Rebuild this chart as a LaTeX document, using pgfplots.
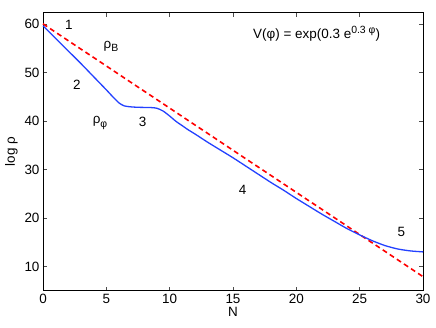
\documentclass[border=0pt]{standalone}
\usepackage{fontspec}
\setmainfont{Liberation Sans}
\usepackage{pgfplots}
\pgfplotsset{compat=1.18}
\usetikzlibrary{calc}
\definecolor{mblue}{RGB}{35,65,255}
\definecolor{mred}{RGB}{255,0,0}
\newcommand{\lbl}{\fontsize{13.5}{15}\selectfont}
\newcommand{\sub}{\fontsize{10.5}{12}\selectfont}
\begin{document}
\begin{tikzpicture}
\begin{axis}[
    scale only axis,
    width=380bp, height=278bp,
    xmin=0, xmax=30,
    ymin=5, ymax=62.3,
    xtick={0,5,...,30},
    ytick={10,20,...,60},
    tick align=inside,
    major tick length=4bp,
    axis line style={line width=0.6bp},
    tick style={line width=0.5bp, black!70},
    /pgf/number format/assume math mode=true,
    tick label style={font=\lbl},
    xlabel={N}, ylabel={log ρ},
    label style={font=\lbl},
    xlabel style={yshift=3bp},
    ylabel style={yshift=0bp},
    clip=false,
]
% rho_B
\addplot[color=mred, line width=1.6bp, dash pattern=on 5bp off 3.5bp] coordinates {
    (0,60.0) (30,7.9)
};
% rho_phi
\addplot[color=mblue, line width=1.3bp, smooth, tension=0.4] coordinates {
    (0,59.6) (1,57.0) (2,54.4) (3,51.8) (4,49.1) (5,46.4) (5.5,45.0)
    (6,43.7) (6.4,43.1) (6.9,42.9) (7.5,42.8) (8.5,42.75) (9,42.6)
    (9.5,42.0) (10,41.0) (10.5,39.9) (11,39.0) (11.5,38.1) (12,37.3)
    (13,35.6) (14,34.0) (15,32.4) (16,30.7) (17,29.0) (18,27.3)
    (19,25.7) (20,24.0) (21,22.4) (22,20.8) (23,19.3) (24,17.8)
    (25,16.5) (26,15.3) (27,14.3) (28,13.6) (29,13.2) (30,13.0)
};
\node[font=\lbl] at (axis cs:2.05,59.7) {1};
\node[font=\lbl] at (axis cs:5.37,55.4) {ρ\raisebox{-0.45ex}{\sub B}};
\node[font=\lbl] at (axis cs:2.68,47.5) {2};
\node[font=\lbl] at (axis cs:4.5,39.5) {ρ\raisebox{-0.55ex}{\sub φ}};
\node[font=\lbl] at (axis cs:7.87,39.8) {3};
\node[font=\lbl] at (axis cs:15.76,25.7) {4};
\node[font=\lbl] at (axis cs:28.3,17.1) {5};
\node[font=\lbl] at (axis cs:21.6,58.0) {V(φ) = exp(0.3 e\raisebox{0.75ex}{\sub 0.3 φ})};
\end{axis}
\path ($(current axis.south west)+(-43bp,-36.5bp)$) rectangle ($(current axis.north east)+(13bp,12.7bp)$);
\end{tikzpicture}
\end{document}
